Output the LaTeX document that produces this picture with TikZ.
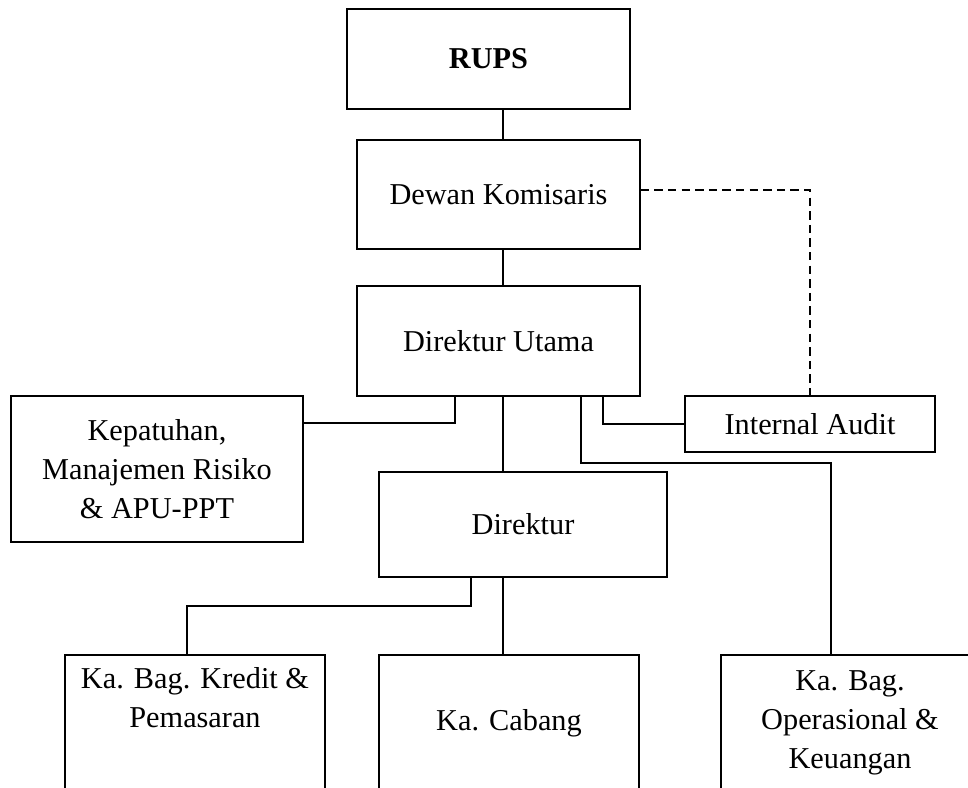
\documentclass[tikz,border=0pt]{standalone}
\usepackage{fontspec}
\setmainfont{Liberation Serif}
\usetikzlibrary{calc}
\begin{document}
\begin{tikzpicture}[x=0.5pt,y=-0.5pt,
    box/.style={draw,line width=0.85pt,align=center,inner sep=0pt,
      font=\fontsize{15.15}{19.6}\selectfont},
    link/.style={line width=0.85pt}]
      \useasboundingbox (0,0) rectangle (968,787);
      \clip (0,0) rectangle (968,787);
      \node[box,minimum width=141.5pt,minimum height=50pt] (rups) at (488.5,59) {\textbf{RUPS}};
      \node[box,minimum width=141.5pt,minimum height=54.5pt] (dewan) at (498.5,194.5) {Dewan Komisaris};
      \node[box,minimum width=141.5pt,minimum height=55pt] (dirut) at (498.5,341) {Direktur Utama};
      \node[box,minimum width=125pt,minimum height=28pt] (audit) at (810,424) {Internal Audit};
      \node[box,minimum width=146pt,minimum height=73pt] (kepatuhan) at (157,469) {Kepatuhan,\\Manajemen Risiko\\\& APU-PPT};
      \node[box,minimum width=144pt,minimum height=52.5pt] (direktur) at (523,524.5) {Direktur};
      \node[box,minimum width=130pt,minimum height=68pt] (kredit) at (195,723) {Ka. Bag. Kredit \&\\Pemasaran\\\strut};
      \node[box,minimum width=130pt,minimum height=68pt] (cabang) at (509,723) {Ka. Cabang};
      \node[box,minimum width=129pt,minimum height=68pt] (operasional) at (850,723) {Ka. Bag.\\Operasional \&\\Keuangan};

      \draw[link] ($(rups.south -| dirut.south)+(4.5,0)$) -- ($(dewan.north -| dirut.south)+(4.5,0)$);
      \draw[link] ($(dewan.south)+(4.5,0)$) -- ($(dirut.north)+(4.5,0)$);
      \draw[link,dash pattern=on 4.2pt off 2.6pt] ($(dewan.east)+(0,-4.5)$) -| (audit.north);
      \draw[link] ($(dirut.south)+(104.5,0)$) |- (audit.west);
      \draw[link] ($(dirut.south)+(-43.5,0)$) |- ($(kepatuhan.east)+(0,-46)$);
      \draw[link] ($(dirut.south)+(4.5,0)$) -- ($(dirut.south |- direktur.north)+(4.5,0)$);
      \draw[link] ($(dirut.south)+(82.5,0)$) -- ++(0,66) -| ($(operasional.north)+(-19,0)$);
      \draw[link] ($(direktur.south -| dirut.south)+(4.5,0)$) -- ($(cabang.north -| dirut.south)+(4.5,0)$);
      \draw[link] ($(direktur.south)+(-52,0)$) -- ++(0,28) -| ($(kredit.north)+(-8,0)$);

      \end{tikzpicture}
\end{document}
